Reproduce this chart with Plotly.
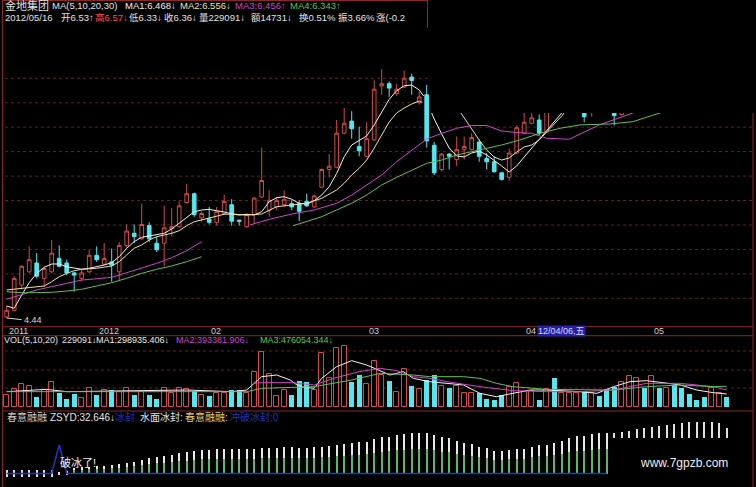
import plotly.graph_objects as go

# ---------------- daily bars (trading-day index 0..96) ----------------
opens = [4.45, 4.51, 4.74, 4.86, 4.94, 4.80, 4.86, 4.98, 4.94, 4.85,
         4.80, 4.86, 5.01, 4.93, 4.95, 4.86, 5.10, 5.21, 5.16, 5.28,
         5.12, 5.12, 5.25, 5.27, 5.49, 5.57, 5.35, 5.34, 5.31, 5.39,
         5.47, 5.33, 5.27, 5.38, 5.54, 5.42, 5.45, 5.47, 5.48, 5.48,
         5.50, 5.45, 5.63, 5.79, 5.81, 6.12, 6.23, 6.00, 5.91, 6.06,
         6.55, 6.57, 6.48, 6.54, 6.63, 6.40, 6.47, 6.01, 5.79, 5.93,
         5.88, 5.97, 5.97, 6.04, 5.89, 5.86, 5.76, 5.72, 5.94, 6.12,
         6.21, 6.24, 6.13, 6.42, 6.36, 6.42, 6.48, 6.33, 6.31, 6.40,
         6.38, 6.33, 6.29, 6.36, 6.48, 6.60, 6.52, 6.66, 6.57, 6.65,
         6.57, 6.51, 6.47, 6.45, 6.40, 6.44, 6.53]
highs = [4.55, 4.82, 4.92, 5.09, 5.03, 4.91, 5.15, 5.10, 4.97, 4.86,
         4.88, 5.06, 5.09, 5.12, 5.07, 5.13, 5.29, 5.29, 5.48, 5.31,
         5.18, 5.46, 5.44, 5.50, 5.66, 5.58, 5.41, 5.45, 5.45, 5.56,
         5.52, 5.33, 5.39, 5.54, 5.99, 5.60, 5.54, 5.60, 5.51, 5.51,
         5.57, 5.56, 5.80, 5.93, 6.24, 6.35, 6.32, 6.18, 6.22, 6.60,
         6.70, 6.59, 6.57, 6.69, 6.66, 6.50, 6.56, 6.04, 5.94, 5.94,
         6.09, 6.09, 6.12, 6.06, 5.94, 5.91, 5.77, 5.98, 6.19, 6.31,
         6.31, 6.29, 6.36, 6.48, 6.47, 6.54, 6.58, 6.40, 6.36, 6.43,
         6.41, 6.36, 6.38, 6.54, 6.62, 6.64, 6.70, 6.69, 6.68, 6.67,
         6.60, 6.54, 6.49, 6.47, 6.50, 6.53, 6.57]
lows = [4.44, 4.50, 4.70, 4.85, 4.80, 4.72, 4.85, 4.90, 4.83, 4.68,
        4.78, 4.85, 4.95, 4.92, 4.77, 4.78, 5.08, 5.12, 5.15, 5.13,
        5.04, 4.91, 5.18, 5.26, 5.48, 5.36, 5.31, 5.29, 5.28, 5.38,
        5.28, 5.28, 5.26, 5.30, 5.53, 5.36, 5.42, 5.45, 5.42, 5.32,
        5.45, 5.44, 5.62, 5.72, 5.80, 6.11, 6.07, 5.91, 5.90, 6.05,
        6.47, 6.45, 6.46, 6.53, 6.47, 6.38, 5.99, 5.74, 5.77, 5.79,
        5.82, 5.88, 5.96, 5.86, 5.79, 5.76, 5.69, 5.69, 5.93, 6.11,
        6.20, 6.10, 6.12, 6.32, 6.33, 6.40, 6.45, 6.22, 6.27, 6.32,
        6.31, 6.19, 6.28, 6.34, 6.45, 6.48, 6.50, 6.55, 6.54, 6.52,
        6.47, 6.43, 6.41, 6.37, 6.38, 6.42, 6.33]
closes = [4.51, 4.80, 4.91, 4.97, 4.82, 4.89, 5.03, 4.91, 4.85, 4.83,
          4.85, 5.01, 4.97, 4.98, 4.92, 5.10, 5.23, 5.18, 5.29, 5.16,
          5.06, 5.26, 5.27, 5.46, 5.57, 5.38, 5.39, 5.31, 5.41, 5.50,
          5.32, 5.32, 5.38, 5.53, 5.69, 5.51, 5.51, 5.52, 5.45, 5.41,
          5.46, 5.55, 5.79, 5.82, 6.12, 6.21, 6.16, 5.96, 6.07, 6.52,
          6.57, 6.53, 6.52, 6.62, 6.60, 6.45, 6.05, 5.76, 5.93, 5.91,
          5.97, 6.00, 6.08, 5.91, 5.86, 5.77, 5.70, 5.94, 6.17, 6.22,
          6.26, 6.12, 6.33, 6.35, 6.44, 6.50, 6.55, 6.27, 6.32, 6.34,
          6.33, 6.28, 6.34, 6.50, 6.58, 6.52, 6.66, 6.58, 6.64, 6.56,
          6.50, 6.46, 6.44, 6.40, 6.47, 6.50, 6.36]
volumes = [276000, 407000, 522000, 490000, 237000, 391000, 568000, 315000, 184000, 292000,
           200000, 444000, 276000, 391000, 391000, 352000, 444000, 276000, 352000, 276000,
           184000, 444000, 315000, 430000, 407000, 375000, 276000, 253000, 315000, 315000,
           391000, 391000, 315000, 812000, 1272000, 759000, 253000, 391000, 276000, 605000,
           582000, 391000, 1235000, 660000, 1350000, 1403000, 582000, 736000, 522000, 1065000,
           736000, 605000, 352000, 867000, 490000, 407000, 621000, 736000, 490000, 444000,
           483000, 315000, 315000, 329000, 184000, 161000, 276000, 467000, 559000, 352000,
           375000, 161000, 407000, 660000, 315000, 315000, 315000, 368000, 315000, 260000,
           407000, 467000, 568000, 713000, 674000, 430000, 720000, 444000, 444000, 506000,
           430000, 299000, 161000, 223000, 444000, 315000, 229091]

quote_date = "2012/05/16"
turnover = 14731
turnover_rate = "0.51%"
amplitude = "3.66%"

date_labels = ["2011", "2012", "02", "03", "04", "05"]
date_label_bars = [0, 12, 27, 48, 69, 86]
cursor_label = "12/04/06,五"

# ---------------- price moving averages: polyline vertices (bar, value) ----------------
ma1_a_bar = list(range(56)) + [55.6]
ma1_a_val = [4.549, 4.528, 4.649, 4.761, 4.846, 4.901, 4.931, 4.931, 4.906, 4.892,
             4.883, 4.892, 4.906, 4.922, 4.943, 4.997, 5.074, 5.134, 5.174, 5.185,
             5.195, 5.210, 5.249, 5.301, 5.361, 5.406, 5.422, 5.428, 5.415, 5.404,
             5.385, 5.376, 5.383, 5.376, 5.406, 5.497, 5.534, 5.543, 5.519, 5.483,
             5.476, 5.506, 5.558, 5.634, 5.755, 5.906, 6.013, 6.058, 6.095, 6.195,
             6.315, 6.428, 6.506, 6.552, 6.558, 6.513, 6.458]
ma1_b_bar = [56.5, 57, 58, 59, 60, 61, 62, 63, 64, 65, 66, 67, 68, 69, 70, 71, 72, 73, 74, 74.8, 96]
ma1_b_val = [6.33, 6.249, 6.113, 5.985, 5.913, 5.904, 5.940, 5.958, 5.922, 5.876, 5.822,
             5.767, 5.822, 5.904, 5.985, 6.067, 6.149, 6.231, 6.304, 6.367, 6.468]

ma2_a_bar = [0, 2, 4, 5, 6, 7, 8, 9, 10, 12, 14, 15, 16, 17, 18, 19, 20, 21, 22, 23, 24, 25,
             26, 27, 28, 29, 30, 31, 32, 34, 36, 38, 40, 42, 44, 45, 46, 47, 48, 49, 50, 51,
             52, 53, 54, 55, 55.4]
ma2_a_val = [4.695, 4.710, 4.725, 4.731, 4.770, 4.815, 4.846, 4.870, 4.883, 4.892, 4.913,
             4.952, 5.013, 5.074, 5.104, 5.149, 5.179, 5.195, 5.210, 5.234, 5.279, 5.315,
             5.331, 5.346, 5.361, 5.383, 5.385, 5.383, 5.376, 5.385, 5.452, 5.467, 5.483,
             5.528, 5.604, 5.665, 5.740, 5.801, 5.876, 5.985, 6.104, 6.222, 6.304, 6.349,
             6.385, 6.413, 6.40]
ma2_b_bar = [60.3, 61, 62, 63, 64, 65, 66, 67, 68, 69, 70, 71, 72, 73, 74, 75, 96]
ma2_b_val = [6.33, 6.258, 6.167, 6.058, 5.967, 5.904, 5.876, 5.895, 5.949, 5.995, 6.013,
             6.058, 6.131, 6.204, 6.276, 6.367, 6.556]

ma3_a_bar = [0, 2, 4, 6, 8, 10, 12, 14, 16, 18, 20, 22, 24, 26]
ma3_a_val = [4.610, 4.649, 4.695, 4.725, 4.758, 4.785, 4.797, 4.810, 4.852, 4.895, 4.937,
             4.988, 5.052, 5.134]
ma3_b_bar = [32.4, 35, 38, 41, 44, 46, 48, 50, 52, 54, 56, 58, 60, 62, 64, 66, 68, 70, 72,
             75, 79, 83.5, 85, 96]
ma3_b_val = [5.285, 5.337, 5.385, 5.422, 5.483, 5.558, 5.649, 5.740, 5.861, 5.967, 6.067,
             6.119, 6.165, 6.190, 6.190, 6.140, 6.126, 6.119, 6.074, 6.065, 6.195, 6.304,
             6.349, 6.456]

ma4_a_bar = [0, 2, 4, 6, 8, 10, 12, 14, 16, 18, 20, 22, 24, 26]
ma4_a_val = [4.679, 4.670, 4.670, 4.674, 4.685, 4.701, 4.731, 4.761, 4.801, 4.846, 4.883,
             4.913, 4.952, 4.997]
ma4_b_bar = [38.2, 40, 42, 44, 46, 48, 50, 52, 54, 56, 58, 60, 62, 64, 66, 68.4, 71.1, 73.8,
             76.4, 80.4, 83.5, 87.1, 88, 96]
ma4_b_val = [5.279, 5.315, 5.361, 5.422, 5.483, 5.558, 5.649, 5.719, 5.785, 5.846, 5.876,
             5.922, 5.952, 5.983, 6.013, 6.058, 6.119, 6.165, 6.195, 6.204, 6.225, 6.304,
             6.331, 6.343]

# ---------------- volume moving averages ----------------
vma1_bar = [0, 5.3, 8, 16, 24, 30, 32, 34, 36, 37.8, 39, 41, 42, 44, 46, 48, 49.5, 51.1,
            52.9, 54.2, 56.4, 58.7, 60.9, 63.1, 65.3, 67.5, 69.8, 72, 76.4, 78.7, 80.9, 83.1,
            85.3, 87.5, 89.8, 92, 94.2, 96]
vma1_val = [352700, 406000, 352700, 375700, 391000, 352700, 391000, 697700, 736000, 621000,
            467700, 429300, 659300, 927700, 1065700, 966000, 850000, 736000, 812700, 659300,
            582700, 544300, 506000, 314300, 237700, 314300, 391000, 391000, 352700, 314300,
            467700, 582700, 605700, 559700, 506000, 391000, 329700, 298935.406]
vma2_bar = [32.9, 34, 38, 40, 41, 43.6, 47, 49.8, 52, 54.2, 56.4, 58.7, 63.1, 67.5, 72, 76.4,
            80.9, 85.3, 89.8, 94.2, 96]
vma2_val = [544300, 559700, 559700, 529000, 506000, 659300, 812700, 889300, 835700, 697700,
            659300, 582700, 467700, 375700, 352700, 352700, 391000, 544300, 544300, 467700,
            393381.906]
vma3_bar = [0, 32, 34, 41, 46, 49.8, 54.2, 56.4, 60.9, 63.1, 65.3, 67.5, 72, 76.4, 80.9,
            85.3, 89.8, 94.2, 96]
vma3_val = [352700, 352700, 429300, 467700, 621000, 774300, 736000, 697700, 697700, 659300,
            544300, 467700, 406000, 391000, 391000, 467700, 506000, 467700, 476054.344]

# ---------------- 春意融融 indicator ----------------
pre_bars = [0, 1, 2, 3, 4, 5, 6, 7, 8]
pre_lo = [-2.3, -2.3, -2.3, -2.3, -2.3, -2.3, -2.3, -1.2, -0.8]
pre_hi = [2.5, 2.5, 2.5, 2.5, 2.5, 2.5, 2.5, 1.3, 1.5]
rise_bars = list(range(9, 81))
rise_hi = [3.7, 4.4, 4.9, 5.4, 5.6, 6.1, 6.8, 7.7, 8.4, 9.6, 10.9, 12.0, 12.7, 13.2, 14.4,
           15.4, 16.1, 16.8, 16.8, 17.3, 17.3, 17.3, 17.3, 17.5, 17.5, 18.0, 18.0, 18.4,
           18.7, 18.7, 18.0, 18.0, 18.9, 19.1, 19.9, 20.4, 21.1, 21.6, 22.3, 22.7, 24.4,
           25.9, 26.3, 27.5, 28.2, 29.1, 29.1, 28.7, 27.5, 25.9, 25.1, 23.2, 22.0, 20.9,
           19.1, 18.0, 16.3, 16.1, 16.8, 17.3, 17.5, 19.1, 20.4, 20.4, 21.6, 23.2, 25.1,
           26.8, 27.0, 28.0, 28.7, 29.1]
float_bars = list(range(81, 97))
float_base = 25.1
float_hi = [29.1, 29.9, 30.6, 31.6, 32.3, 33.0, 33.9, 34.6, 35.1, 35.9, 36.6, 37.0, 37.0,
            36.6, 35.9, 32.646]
ice_bar = [0, 6, 7, 8, 80]
ice_val = [0, 0, 20.4, 0, 0]

# ---------------- styling ----------------
W, H = 756, 487
BG = "#000000"
RED = "#d24a4a"
CYAN = "#55e6ef"
C_MA1 = "#f2f2f2"
C_MA2 = "#efe4a2"
C_MA3 = "#cf45cf"
C_MA4 = "#62c052"
GRID = "#6a1c1c"
FRAME = "#8c2626"
TXT = "#e2e2e2"
FONT = "Liberation Sans, Noto Sans CJK SC, sans-serif"


def py(ypix):
    return (H - ypix) / H


def px(xpix):
    return xpix / W


n = len(closes)
bars = list(range(n))

fig = go.Figure()

# candles
fig.add_trace(go.Candlestick(
    x=bars, open=opens, high=highs, low=lows, close=closes,
    increasing=dict(line=dict(color=RED, width=1), fillcolor=BG),
    decreasing=dict(line=dict(color=CYAN, width=1), fillcolor=CYAN),
    whiskerwidth=0, hoverinfo="skip", showlegend=False, xaxis="x", yaxis="y"))

for xs, ys, col in [(ma1_a_bar, ma1_a_val, C_MA1), (ma1_b_bar, ma1_b_val, C_MA1),
                    (ma2_a_bar, ma2_a_val, C_MA2), (ma2_b_bar, ma2_b_val, C_MA2),
                    (ma3_a_bar, ma3_a_val, C_MA3), (ma3_b_bar, ma3_b_val, C_MA3),
                    (ma4_a_bar, ma4_a_val, C_MA4), (ma4_b_bar, ma4_b_val, C_MA4)]:
    fig.add_trace(go.Scatter(x=xs, y=ys, mode="lines", line=dict(color=col, width=1),
                             hoverinfo="skip", showlegend=False, yaxis="y"))

# volume
up = [c >= o for o, c in zip(opens, closes)]
fig.add_trace(go.Bar(x=bars, y=[v if u else None for v, u in zip(volumes, up)],
                     width=0.64, marker=dict(color=BG, line=dict(color=RED, width=1)),
                     hoverinfo="skip", showlegend=False, yaxis="y2"))
fig.add_trace(go.Bar(x=bars, y=[None if u else v for v, u in zip(volumes, up)],
                     width=0.64, marker=dict(color=CYAN, line=dict(width=0)),
                     hoverinfo="skip", showlegend=False, yaxis="y2"))
for xs, ys, col in [(vma1_bar, vma1_val, C_MA1), (vma2_bar, vma2_val, C_MA3),
                    (vma3_bar, vma3_val, C_MA4)]:
    fig.add_trace(go.Scatter(x=xs, y=ys, mode="lines", line=dict(color=col, width=1),
                             hoverinfo="skip", showlegend=False, yaxis="y2"))

# indicator sticks
STICK_W = 0.27
fig.add_trace(go.Bar(x=pre_bars, y=[h - l for l, h in zip(pre_lo, pre_hi)], base=pre_lo,
                     width=STICK_W, marker=dict(color="#dcdcdc", line=dict(width=0)),
                     hoverinfo="skip", showlegend=False, yaxis="y3"))
fig.add_trace(go.Bar(x=rise_bars, y=rise_hi, base=0, width=STICK_W,
                     marker=dict(color="#5cb85c", line=dict(width=0)),
                     hoverinfo="skip", showlegend=False, yaxis="y3"))
fig.add_trace(go.Bar(x=rise_bars, y=[h * 0.4 for h in rise_hi], base=[h * 0.6 for h in rise_hi],
                     width=STICK_W, marker=dict(color="#e8e8e8", line=dict(width=0)),
                     hoverinfo="skip", showlegend=False, yaxis="y3"))
fig.add_trace(go.Bar(x=float_bars, y=[h - float_base for h in float_hi], base=float_base,
                     width=STICK_W, marker=dict(color="#e0e0e0", line=dict(width=0)),
                     hoverinfo="skip", showlegend=False, yaxis="y3"))
fig.add_trace(go.Scatter(x=ice_bar, y=ice_val, mode="lines", line=dict(color="#2535c8", width=1.5),
                         hoverinfo="skip", showlegend=False, yaxis="y3"))

# ---------------- frame, grid, cover ----------------
shapes = []
for yp in [78.3, 102.8, 127.2, 151.6, 176.1, 200.5, 225.0, 249.4, 273.9, 298.3, 351, 370, 388]:
    shapes.append(dict(type="line", xref="paper", yref="paper", x0=px(5), x1=px(752),
                       y0=py(yp), y1=py(yp), line=dict(color=GRID, width=1, dash="dot"),
                       layer="below"))
for yp in [326.7, 335.7, 411]:
    shapes.append(dict(type="line", xref="paper", yref="paper", x0=px(3), x1=px(753),
                       y0=py(yp), y1=py(yp), line=dict(color=FRAME, width=1), layer="above"))
for xp in [2.5, 753]:
    shapes.append(dict(type="line", xref="paper", yref="paper", x0=px(xp), x1=px(xp),
                       y0=0, y1=1, line=dict(color=FRAME, width=1), layer="above"))
shapes.append(dict(type="line", xref="paper", yref="paper", x0=px(3), x1=px(427.5),
                   y0=py(0.5), y1=py(0.5), line=dict(color=FRAME, width=1), layer="above"))
# blank upper-right block
shapes.append(dict(type="rect", xref="paper", yref="paper", x0=px(430), x1=1,
                   y0=py(113), y1=1, fillcolor=BG, line=dict(width=0), layer="above"))
shapes.append(dict(type="line", xref="paper", yref="paper", x0=px(427.5), x1=px(427.5),
                   y0=py(28), y1=1, line=dict(color=FRAME, width=1), layer="above"))
# leader to the low-price label
low_bar = lows.index(min(lows))
shapes.append(dict(type="line", xref="x", yref="y", x0=low_bar, x1=low_bar + 2.0,
                   y0=min(lows), y1=min(lows) - 0.015,
                   line=dict(color="#d8d8d8", width=1), layer="above"))

# ---------------- texts ----------------
ann = []


def put(text, xpix, ypix, color=TXT, size=10, **kw):
    ann.append(dict(text=text, x=px(xpix), y=py(ypix), xref="paper", yref="paper",
                    xanchor="left", yanchor="middle", showarrow=False,
                    font=dict(family=FONT, size=size, color=color), **kw))


title_tokens = [
    ("金地集团", 3, TXT, 11),
    ("MA(5,10,20,30)", 50, TXT, 9.5),
    (f"MA1:{ma1_b_val[-1]:.3f}↓", 123, C_MA1, 9.5),
    (f"MA2:{ma2_b_val[-1]:.3f}↓", 178, C_MA2, 9.5),
    (f"MA3:{ma3_b_val[-1]:.3f}↑", 233, C_MA3, 9.5),
    (f"MA4:{ma4_b_val[-1]:.3f}↑", 288, C_MA4, 9.5),
]
for t, x, c, s in title_tokens:
    put(t, x, 5.5, c, s)

quote_tokens = [
    (quote_date, 3, TXT),
    (f"开{opens[-1]:.2f}↑", 59, TXT),
    (f"高{highs[-1]:.2f}↓", 93, "#ff4a4a"),
    (f"低{lows[-1]:.2f}↓", 127, TXT),
    (f"收{closes[-1]:.2f}↓", 162, TXT),
    (f"量{volumes[-1]}↓", 197, TXT),
    (f"额{turnover}↓", 249, TXT),
    (f"换{turnover_rate}", 297, TXT),
    (f"振{amplitude}", 336, TXT),
    ("涨(-0.2", 374, TXT),
]
for t, x, c in quote_tokens:
    put(t, x, 17.5, c, 9.5)

vol_tokens = [
    ("VOL(5,10,20)", 2, TXT),
    (f"{volumes[-1]}↓", 60, TXT),
    (f"MA1:{vma1_val[-1]:.3f}↓", 94, "#f0f0d8"),
    (f"MA2:{vma2_val[-1]:.3f}↓", 174, C_MA3),
    (f"MA3:{vma3_val[-1]:.3f}↓", 258, "#4fd04f"),
]
for t, x, c in vol_tokens:
    put(t, x, 340, c, 9)

ind_tokens = [
    ("春意融融", 5, "#cfcfcf"),
    (f"ZSYD:{float_hi[-1]:.3f}↓", 48, TXT),
    ("冰封", 113, "#2233b0"),
    ("水面冰封:", 138, TXT),
    ("春意融融:", 183, "#e6d36a"),
    ("冲破冰封:0", 228, "#2233b0"),
]
for t, x, c in ind_tokens:
    put(t, x, 417, c, 10)

put("破冰了!", 58, 462, "#f0f0f0", 11)
put("www.7gpzb.com", 638, 463, "#ececec", 12)

# low price label
ann.append(dict(text=f"{min(lows):.2f}", x=low_bar + 2.1, y=min(lows) - 0.02, xref="x", yref="y",
                xanchor="left", yanchor="middle", showarrow=False,
                font=dict(family=FONT, size=9, color="#d8d8d8")))

# date strip
for lab, b in zip(date_labels, date_label_bars):
    ann.append(dict(text=lab, x=b, y=py(331.2), xref="x", yref="paper", xanchor="left",
                    yanchor="middle", showarrow=False,
                    font=dict(family=FONT, size=9, color="#cfcfcf")))
put(cursor_label, 537, 331.2, "#d8d8ff", 9, bgcolor="#2a20a8", borderpad=0)

fig.update_layout(
    width=W, height=H, margin=dict(l=0, r=0, t=0, b=0),
    paper_bgcolor=BG, plot_bgcolor=BG, barmode="overlay", bargap=0,
    showlegend=False, shapes=shapes, annotations=ann,
    xaxis=dict(range=[-0.8933, 99.9067], visible=False, fixedrange=True,
               rangeslider=dict(visible=False), domain=[0, 1]),
    yaxis=dict(domain=[py(322), py(28)], range=[4.40364, 7.07636], visible=False,
               fixedrange=True),
    yaxis2=dict(domain=[py(407), py(345)], range=[0, 62 * 23000], visible=False,
                fixedrange=True, anchor="x"),
    yaxis3=dict(domain=[0, py(420)], range=[-9.643, 38.214], visible=False,
                fixedrange=True, anchor="x"),
)

fig.write_html("out.html")
